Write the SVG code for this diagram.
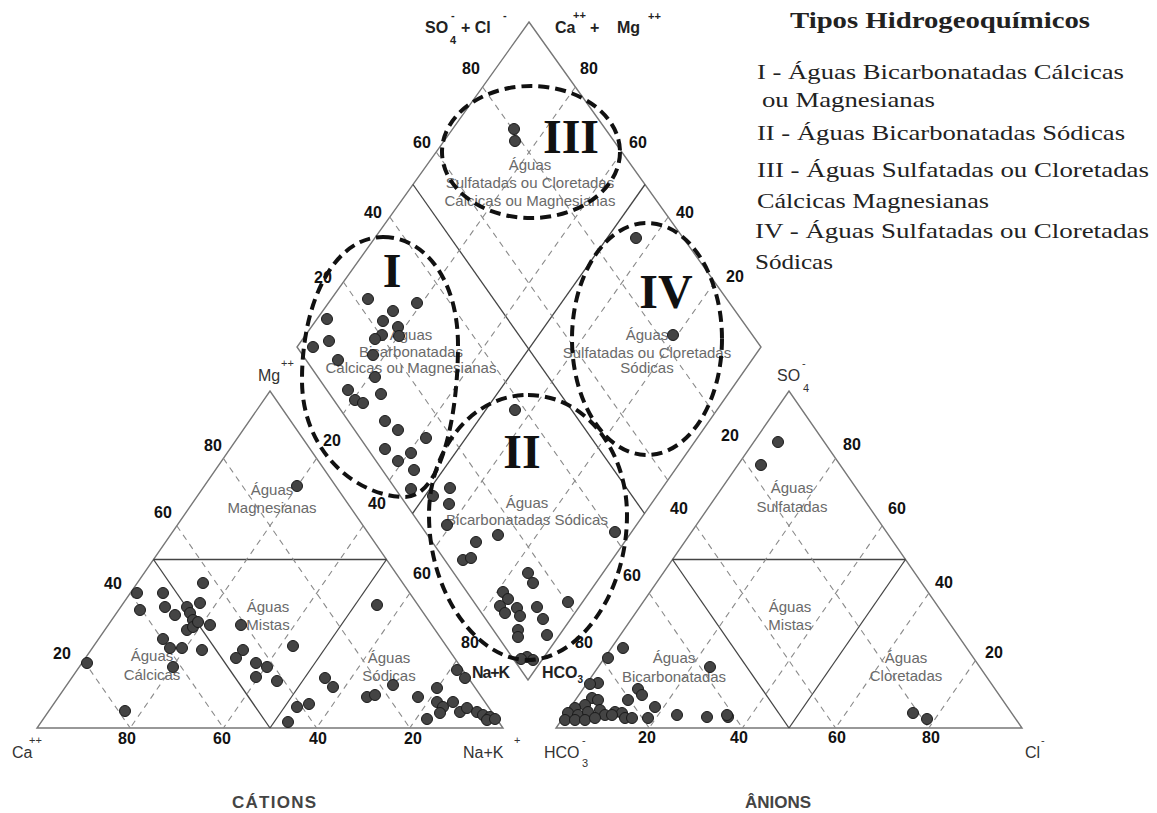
<svg xmlns="http://www.w3.org/2000/svg" xmlns:xlink="http://www.w3.org/1999/xlink" width="1157" height="813" viewBox="0 0 1157 813">
<style>
.out{fill:none;stroke:#777;stroke-width:1.4}
.mid{fill:none;stroke:#444;stroke-width:1.3}
.dash{fill:none;stroke:#8a8a8a;stroke-width:1.1;stroke-dasharray:6 5}
.ell{fill:none;stroke:#111;stroke-width:4;stroke-dasharray:11 6}
.pt{fill:#444;stroke:#1a1a1a;stroke-width:1}
.tick{font-family:"Liberation Sans",Arial,sans-serif;font-weight:bold;font-size:16px;fill:#111;text-anchor:middle}
.reg{font-family:"Liberation Sans",Arial,sans-serif;font-size:15px;fill:#6a6a6a;text-anchor:middle}
.ax{font-family:"Liberation Sans",Arial,sans-serif;font-size:16px;fill:#333}
.axs{font-family:"Liberation Sans",Arial,sans-serif;font-size:11px;fill:#333}
.top{font-family:"Liberation Sans",Arial,sans-serif;font-weight:bold;font-size:16px;fill:#222}
.tops{font-family:"Liberation Sans",Arial,sans-serif;font-weight:bold;font-size:11px;fill:#222}
.num{font-family:"Liberation Serif","Times New Roman",serif;font-weight:bold;font-size:48px;fill:#111;text-anchor:middle}
.leg{font-family:"Liberation Serif","Times New Roman",serif;font-size:22px;fill:#222}
.legt{font-family:"Liberation Serif","Times New Roman",serif;font-weight:bold;font-size:23px;fill:#222}
.cap{font-family:"Liberation Sans",Arial,sans-serif;font-weight:bold;font-size:17px;fill:#444;text-anchor:middle}
</style>
<defs>
<g id="tri">
<polygon class="out" points="37,728 503,728 270,391"/>
<line class="mid" x1="153.5" y1="559.5" x2="386.5" y2="559.5"/>
<line class="mid" x1="153.5" y1="559.5" x2="270" y2="728"/>
<line class="mid" x1="386.5" y1="559.5" x2="270" y2="728"/>
<line class="dash" x1="83.6" y1="660.6" x2="130.2" y2="728"/>
<line class="dash" x1="130.2" y1="593.2" x2="223.4" y2="728"/>
<line class="dash" x1="176.8" y1="525.8" x2="316.6" y2="728"/>
<line class="dash" x1="223.4" y1="458.4" x2="409.8" y2="728"/>
<line class="dash" x1="456.4" y1="660.6" x2="409.8" y2="728"/>
<line class="dash" x1="409.8" y1="593.2" x2="316.6" y2="728"/>
<line class="dash" x1="363.2" y1="525.8" x2="223.4" y2="728"/>
<line class="dash" x1="316.6" y1="458.4" x2="130.2" y2="728"/>
</g>
</defs>
<rect width="1157" height="813" fill="#fff"/>

<g id="cation-triangle"><use xlink:href="#tri" href="#tri"/></g>
<g id="anion-triangle"><use xlink:href="#tri" href="#tri" transform="translate(519,0)"/></g>

<g id="diamond">
<polygon class="out" points="529,22 761,347 528,680 297,347"/>
<line class="mid" x1="645" y1="184.5" x2="412.5" y2="513.5"/>
<line class="mid" x1="413" y1="184.5" x2="644.5" y2="513.5"/>
<line class="dash" x1="575.4" y1="87" x2="343.2" y2="413.6"/>
<line class="dash" x1="621.8" y1="152" x2="389.4" y2="480.2"/>
<line class="dash" x1="668.2" y1="217" x2="435.6" y2="546.8"/>
<line class="dash" x1="714.6" y1="282" x2="481.8" y2="613.4"/>
<line class="dash" x1="482.6" y1="87" x2="714.4" y2="413.6"/>
<line class="dash" x1="436.2" y1="152" x2="667.8" y2="480.2"/>
<line class="dash" x1="389.8" y1="217" x2="621.2" y2="546.8"/>
<line class="dash" x1="343.4" y1="282" x2="574.6" y2="613.4"/>
</g>

<g id="tick-labels">
<text class="tick" x="213" y="451">80</text><text class="tick" x="163" y="518">60</text><text class="tick" x="113" y="589">40</text><text class="tick" x="62" y="659">20</text>
<text class="tick" x="127" y="744">80</text><text class="tick" x="222" y="744">60</text><text class="tick" x="318" y="744">40</text><text class="tick" x="413" y="744">20</text>
<text class="tick" x="332" y="446">20</text><text class="tick" x="377" y="509">40</text><text class="tick" x="422" y="579">60</text><text class="tick" x="470" y="648">80</text>
<text class="tick" x="471" y="74">80</text><text class="tick" x="422" y="148">60</text><text class="tick" x="373" y="218">40</text><text class="tick" x="323" y="283">20</text>
<text class="tick" x="589" y="74">80</text><text class="tick" x="638" y="148">60</text><text class="tick" x="685" y="218">40</text><text class="tick" x="735" y="282">20</text>
<text class="tick" x="730" y="441">20</text><text class="tick" x="679" y="514">40</text><text class="tick" x="632" y="581">60</text><text class="tick" x="584" y="648">80</text>
<text class="tick" x="852" y="450">80</text><text class="tick" x="897" y="514">60</text><text class="tick" x="944" y="588">40</text><text class="tick" x="994" y="658">20</text>
<text class="tick" x="647" y="743">20</text><text class="tick" x="739" y="743">40</text><text class="tick" x="837" y="743">60</text><text class="tick" x="931" y="743">80</text>
</g>

<g id="axis-labels">
<text class="top" x="425" y="33">SO</text><text class="tops" x="450" y="44">4</text><text class="tops" x="451" y="19">-</text><text class="top" x="461" y="33">+ Cl</text><text class="tops" x="503" y="19">-</text>
<text class="top" x="555" y="33">Ca</text><text class="tops" x="573" y="19">++</text><text class="top" x="590" y="33">+</text><text class="top" x="617" y="33">Mg</text><text class="tops" x="648" y="20">++</text>
<text class="ax" x="258" y="381">Mg</text><text class="axs" x="281" y="367">++</text>
<text class="ax" x="777" y="381">SO</text><text class="axs" x="803" y="392">4</text><text class="axs" x="802" y="367">-</text>
<text class="ax" x="12" y="758">Ca</text><text class="axs" x="29" y="744">++</text>
<text class="ax" x="463" y="758">Na+K</text><text class="axs" x="514" y="744">+</text>
<text class="ax" x="544" y="758">HCO</text><text class="axs" x="582" y="767">3</text><text class="axs" x="582" y="744">-</text>
<text class="ax" x="1025" y="758">Cl</text><text class="axs" x="1041" y="744">-</text>
<text class="top" x="472" y="678" font-size="13px" textLength="38">Na+K</text>
<text class="top" x="542" y="678" font-size="13px">HCO<tspan dy="5" font-size="10px">3</tspan></text>
<text class="cap" x="274" y="808" textLength="84">CÁTIONS</text>
<text class="cap" x="778" y="808" textLength="66">ÂNIONS</text>
</g>

<g id="region-labels">
<text class="reg" x="530" y="170">Águas</text><text class="reg" x="530" y="188">Sulfatadas ou Cloretadas</text><text class="reg" x="530" y="206">Cálcicas ou Magnesianas</text>
<text class="reg" x="411" y="340">Águas</text><text class="reg" x="411" y="357">Bicarbonatadas</text><text class="reg" x="411" y="373">Cálcicas ou Magnesianas</text>
<text class="reg" x="647" y="340">Águas</text><text class="reg" x="647" y="358">Sulfatadas ou Cloretadas</text><text class="reg" x="647" y="373">Sódicas</text>
<text class="reg" x="527" y="508">Águas</text><text class="reg" x="527" y="525">Bicarbonatadas Sódicas</text>
<text class="reg" x="272" y="495">Águas</text><text class="reg" x="272" y="513">Magnesianas</text>
<text class="reg" x="268" y="612">Águas</text><text class="reg" x="268" y="630">Mistas</text>
<text class="reg" x="152" y="661">Águas</text><text class="reg" x="152" y="680">Cálcicas</text>
<text class="reg" x="389" y="663">Águas</text><text class="reg" x="389" y="681">Sódicas</text>
<text class="reg" x="792" y="493">Águas</text><text class="reg" x="792" y="512">Sulfatadas</text>
<text class="reg" x="790" y="612">Águas</text><text class="reg" x="790" y="630">Mistas</text>
<text class="reg" x="906" y="663">Águas</text><text class="reg" x="906" y="681">Cloretadas</text>
<text class="reg" x="674" y="663">Águas</text><text class="reg" x="674" y="682">Bicarbonatadas</text>
</g>

<g id="points">
<circle class="pt" cx="514" cy="129" r="5.5"/><circle class="pt" cx="515" cy="141" r="5.5"/>
<circle class="pt" cx="636" cy="238" r="5.5"/><circle class="pt" cx="673" cy="335" r="5.5"/>
<circle class="pt" cx="368" cy="299" r="5.5"/><circle class="pt" cx="417" cy="303" r="5.5"/><circle class="pt" cx="393" cy="311" r="5.5"/><circle class="pt" cx="327" cy="319" r="5.5"/><circle class="pt" cx="383" cy="321" r="5.5"/><circle class="pt" cx="398" cy="327" r="5.5"/><circle class="pt" cx="399" cy="336" r="5.5"/><circle class="pt" cx="382" cy="335" r="5.5"/><circle class="pt" cx="375" cy="339" r="5.5"/><circle class="pt" cx="329" cy="341" r="5.5"/><circle class="pt" cx="313" cy="347" r="5.5"/><circle class="pt" cx="373" cy="355" r="5.5"/><circle class="pt" cx="338" cy="360" r="5.5"/><circle class="pt" cx="375" cy="377" r="5.5"/><circle class="pt" cx="348" cy="390" r="5.5"/><circle class="pt" cx="355" cy="400" r="5.5"/><circle class="pt" cx="363" cy="403" r="5.5"/><circle class="pt" cx="381" cy="394" r="5.5"/><circle class="pt" cx="385" cy="421" r="5.5"/><circle class="pt" cx="398" cy="430" r="5.5"/><circle class="pt" cx="426" cy="438" r="5.5"/><circle class="pt" cx="385" cy="449" r="5.5"/><circle class="pt" cx="398" cy="461" r="5.5"/><circle class="pt" cx="411" cy="453" r="5.5"/><circle class="pt" cx="414" cy="470" r="5.5"/><circle class="pt" cx="411" cy="489" r="5.5"/><circle class="pt" cx="450" cy="488" r="5.5"/><circle class="pt" cx="433" cy="496" r="5.5"/><circle class="pt" cx="449" cy="504" r="5.5"/>
<circle class="pt" cx="515" cy="410" r="5.5"/><circle class="pt" cx="447" cy="525" r="5.5"/><circle class="pt" cx="476" cy="542" r="5.5"/><circle class="pt" cx="498" cy="535" r="5.5"/><circle class="pt" cx="463" cy="560" r="5.5"/><circle class="pt" cx="471" cy="558" r="5.5"/><circle class="pt" cx="615" cy="532" r="5.5"/><circle class="pt" cx="528" cy="573" r="5.5"/><circle class="pt" cx="533" cy="583" r="5.5"/><circle class="pt" cx="503" cy="592" r="5.5"/><circle class="pt" cx="508" cy="599" r="5.5"/><circle class="pt" cx="500" cy="606" r="5.5"/><circle class="pt" cx="505" cy="613" r="5.5"/><circle class="pt" cx="517" cy="608" r="5.5"/><circle class="pt" cx="520" cy="616" r="5.5"/><circle class="pt" cx="537" cy="607" r="5.5"/><circle class="pt" cx="543" cy="619" r="5.5"/><circle class="pt" cx="568" cy="602" r="5.5"/><circle class="pt" cx="518" cy="630" r="5.5"/><circle class="pt" cx="518" cy="637" r="5.5"/><circle class="pt" cx="547" cy="635" r="5.5"/><circle class="pt" cx="527" cy="657" r="5.5"/><circle class="pt" cx="521" cy="659" r="5.5"/><circle class="pt" cx="533" cy="660" r="5.5"/>
<circle class="pt" cx="297" cy="486" r="5.5"/>
<circle class="pt" cx="87" cy="663" r="5.5"/><circle class="pt" cx="125" cy="711" r="5.5"/><circle class="pt" cx="137" cy="593" r="5.5"/><circle class="pt" cx="140" cy="610" r="5.5"/><circle class="pt" cx="163" cy="593" r="5.5"/><circle class="pt" cx="165" cy="607" r="5.5"/><circle class="pt" cx="203" cy="583" r="5.5"/><circle class="pt" cx="175" cy="615" r="5.5"/><circle class="pt" cx="187" cy="607" r="5.5"/><circle class="pt" cx="190" cy="613" r="5.5"/><circle class="pt" cx="200" cy="603" r="5.5"/><circle class="pt" cx="193" cy="620" r="5.5"/><circle class="pt" cx="187" cy="630" r="5.5"/><circle class="pt" cx="193" cy="627" r="5.5"/><circle class="pt" cx="198" cy="622" r="5.5"/><circle class="pt" cx="210" cy="625" r="5.5"/><circle class="pt" cx="182" cy="648" r="5.5"/><circle class="pt" cx="163" cy="639" r="5.5"/><circle class="pt" cx="170" cy="648" r="5.5"/><circle class="pt" cx="202" cy="650" r="5.5"/><circle class="pt" cx="173" cy="667" r="5.5"/>
<circle class="pt" cx="241" cy="625" r="5.5"/><circle class="pt" cx="243" cy="650" r="5.5"/><circle class="pt" cx="236" cy="658" r="5.5"/><circle class="pt" cx="256" cy="663" r="5.5"/><circle class="pt" cx="267" cy="667" r="5.5"/><circle class="pt" cx="256" cy="677" r="5.5"/><circle class="pt" cx="277" cy="681" r="5.5"/><circle class="pt" cx="293" cy="646" r="5.5"/>
<circle class="pt" cx="377" cy="605" r="5.5"/><circle class="pt" cx="325" cy="678" r="5.5"/><circle class="pt" cx="333" cy="687" r="5.5"/><circle class="pt" cx="297" cy="707" r="5.5"/><circle class="pt" cx="309" cy="704" r="5.5"/><circle class="pt" cx="288" cy="722" r="5.5"/><circle class="pt" cx="367" cy="697" r="5.5"/><circle class="pt" cx="375" cy="695" r="5.5"/><circle class="pt" cx="393" cy="685" r="5.5"/><circle class="pt" cx="418" cy="697" r="5.5"/><circle class="pt" cx="427" cy="719" r="5.5"/><circle class="pt" cx="437" cy="688" r="5.5"/><circle class="pt" cx="437" cy="702" r="5.5"/><circle class="pt" cx="443" cy="707" r="5.5"/><circle class="pt" cx="453" cy="702" r="5.5"/><circle class="pt" cx="460" cy="712" r="5.5"/><circle class="pt" cx="467" cy="708" r="5.5"/><circle class="pt" cx="477" cy="712" r="5.5"/><circle class="pt" cx="483" cy="715" r="5.5"/><circle class="pt" cx="490" cy="717" r="5.5"/><circle class="pt" cx="487" cy="720" r="5.5"/><circle class="pt" cx="495" cy="719" r="5.5"/><circle class="pt" cx="457" cy="670" r="5.5"/><circle class="pt" cx="465" cy="678" r="5.5"/><circle class="pt" cx="440" cy="713" r="5.5"/>
<circle class="pt" cx="778" cy="442" r="5.5"/><circle class="pt" cx="761" cy="465" r="5.5"/><circle class="pt" cx="728" cy="717" r="5.5"/><circle class="pt" cx="913" cy="713" r="5.5"/><circle class="pt" cx="927" cy="719" r="5.5"/>
<circle class="pt" cx="623" cy="648" r="5.5"/><circle class="pt" cx="608" cy="658" r="5.5"/><circle class="pt" cx="710" cy="667" r="5.5"/><circle class="pt" cx="598" cy="683" r="5.5"/><circle class="pt" cx="590" cy="684" r="5.5"/><circle class="pt" cx="638" cy="689" r="5.5"/><circle class="pt" cx="642" cy="695" r="5.5"/><circle class="pt" cx="592" cy="698" r="5.5"/><circle class="pt" cx="598" cy="700" r="5.5"/><circle class="pt" cx="628" cy="700" r="5.5"/><circle class="pt" cx="655" cy="707" r="5.5"/><circle class="pt" cx="585" cy="705" r="5.5"/><circle class="pt" cx="575" cy="708" r="5.5"/><circle class="pt" cx="568" cy="713" r="5.5"/><circle class="pt" cx="578" cy="715" r="5.5"/><circle class="pt" cx="588" cy="712" r="5.5"/><circle class="pt" cx="600" cy="710" r="5.5"/><circle class="pt" cx="605" cy="715" r="5.5"/><circle class="pt" cx="615" cy="712" r="5.5"/><circle class="pt" cx="622" cy="713" r="5.5"/><circle class="pt" cx="565" cy="720" r="5.5"/><circle class="pt" cx="575" cy="720" r="5.5"/><circle class="pt" cx="585" cy="720" r="5.5"/><circle class="pt" cx="595" cy="718" r="5.5"/><circle class="pt" cx="625" cy="718" r="5.5"/><circle class="pt" cx="632" cy="718" r="5.5"/><circle class="pt" cx="648" cy="718" r="5.5"/><circle class="pt" cx="677" cy="715" r="5.5"/><circle class="pt" cx="707" cy="717" r="5.5"/><circle class="pt" cx="727" cy="715" r="5.5"/><circle class="pt" cx="612" cy="715" r="5.5"/>
</g>

<g id="groups">
<ellipse class="ell" cx="531" cy="152" rx="89" ry="66"/>
<path class="ell" d="M383,237 C425,237 458,280 458,345 C458,420 440,497 405,497 C360,497 302,455 302,380 C302,300 335,237 383,237 Z"/>
<ellipse class="ell" cx="647" cy="339" rx="75" ry="116"/>
<path class="ell" d="M528,395 C585,395 627,450 627,515 C627,595 578,660 528,660 C478,660 429,595 429,515 C429,450 471,395 528,395 Z"/>
<text class="num" x="392" y="287">I</text>
<text class="num" x="522" y="468">II</text>
<text class="num" x="571" y="153">III</text>
<text class="num" x="666" y="308">IV</text>
</g>

<g id="legend">
<text class="legt" x="790" y="28" textLength="300" lengthAdjust="spacingAndGlyphs">Tipos Hidrogeoquímicos</text>
<text class="leg" x="757" y="79" textLength="367" lengthAdjust="spacingAndGlyphs">I - Águas Bicarbonatadas Cálcicas</text>
<text class="leg" x="762" y="107" textLength="173" lengthAdjust="spacingAndGlyphs">ou Magnesianas</text>
<text class="leg" x="757" y="140" textLength="368" lengthAdjust="spacingAndGlyphs">II - Águas Bicarbonatadas Sódicas</text>
<text class="leg" x="757" y="177" textLength="392" lengthAdjust="spacingAndGlyphs">III - Águas Sulfatadas ou Cloretadas</text>
<text class="leg" x="757" y="208" textLength="232" lengthAdjust="spacingAndGlyphs">Cálcicas Magnesianas</text>
<text class="leg" x="755" y="238" textLength="394" lengthAdjust="spacingAndGlyphs">IV - Águas Sulfatadas ou Cloretadas</text>
<text class="leg" x="755" y="269" textLength="78" lengthAdjust="spacingAndGlyphs">Sódicas</text>
</g>
</svg>
